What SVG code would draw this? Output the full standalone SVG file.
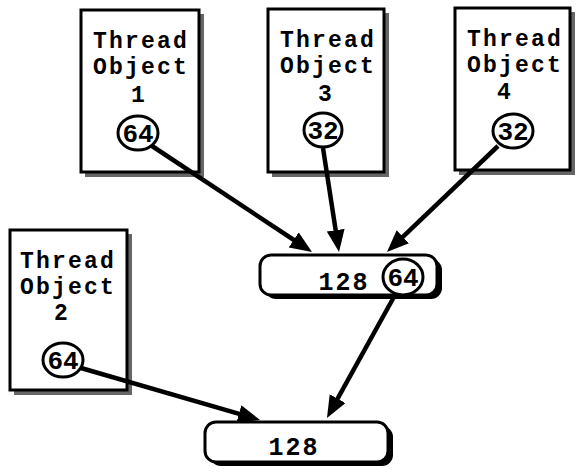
<svg xmlns="http://www.w3.org/2000/svg" width="580" height="476" viewBox="0 0 580 476">
<style>
.box{fill:#fff;stroke:#000;stroke-width:3}
.shadow{fill:#666}
.lbl{font-family:"Liberation Mono",monospace;font-weight:bold;font-size:23px;letter-spacing:2.2px;text-anchor:middle;fill:#000}
.num{font-family:"Liberation Mono",monospace;font-weight:bold;font-size:26px;text-anchor:middle;fill:#000}
.big{font-size:25px;letter-spacing:2px}
.ring{fill:#fff;stroke:#000;stroke-width:3}
.bar{fill:#fff;stroke:#000;stroke-width:3}
.barshadow{fill:#000}
.conn{stroke:#000;stroke-width:4.5;fill:none;marker-end:url(#ah)}
</style>
<defs>
<marker id="ah" markerUnits="userSpaceOnUse" markerWidth="24" markerHeight="20" refX="12" refY="9" orient="auto">
<path d="M0,0 L22,9 L0,18 z" fill="#000"/>
</marker>
</defs>
<rect width="580" height="476" fill="#fff"/>
<g id="thread1">
<rect class="shadow" x="85" y="14" width="119" height="163"/>
<rect class="box" x="81" y="10" width="118" height="162"/>
<text class="lbl" x="141" y="48">Thread</text>
<text class="lbl" x="141" y="74">Object</text>
<text class="lbl" x="139" y="102">1</text>
<ellipse class="ring" cx="138" cy="133" rx="20" ry="17"/>
<text class="num" x="138" y="142">64</text>
</g>
<g id="thread3">
<rect class="shadow" x="272" y="13" width="117" height="164"/>
<rect class="box" x="268" y="9" width="116" height="163"/>
<text class="lbl" x="328" y="47">Thread</text>
<text class="lbl" x="328" y="73">Object</text>
<text class="lbl" x="326" y="101">3</text>
<ellipse class="ring" cx="323" cy="130" rx="19" ry="17"/>
<text class="num" x="323" y="139">32</text>
</g>
<g id="thread4">
<rect class="shadow" x="459" y="12" width="116" height="163"/>
<rect class="box" x="455" y="8" width="115" height="162"/>
<text class="lbl" x="515" y="46">Thread</text>
<text class="lbl" x="515" y="72">Object</text>
<text class="lbl" x="505" y="99">4</text>
<ellipse class="ring" cx="513" cy="131" rx="20" ry="17"/>
<text class="num" x="513" y="140">32</text>
</g>
<g id="thread2">
<rect class="shadow" x="14" y="234" width="118" height="161"/>
<rect class="box" x="10" y="230" width="117" height="160"/>
<text class="lbl" x="68" y="268">Thread</text>
<text class="lbl" x="68" y="294">Object</text>
<text class="lbl" x="62" y="320">2</text>
<ellipse class="ring" cx="63" cy="360" rx="20" ry="17"/>
<text class="num" x="63" y="369">64</text>
</g>
<g id="counter-mid">
<rect class="barshadow" x="265" y="259" width="177" height="40" rx="11"/>
<rect class="bar" x="260" y="255" width="177" height="40" rx="11"/>
<text class="num big" x="344" y="290">128</text>
<ellipse class="ring" cx="403" cy="277" rx="20" ry="18"/>
<text class="num" x="403" y="286">64</text>
</g>
<g id="counter-bottom">
<rect class="barshadow" x="210" y="426" width="183" height="40" rx="11"/>
<rect class="bar" x="205" y="422" width="183" height="40" rx="11"/>
<text class="num big" x="294" y="455">128</text>
</g>
<g id="connectors">
<line class="conn" x1="152" y1="146" x2="303.7" y2="246.5"/>
<line class="conn" x1="323" y1="148" x2="337.5" y2="242.1"/>
<line class="conn" x1="498" y1="146" x2="394.2" y2="245.1"/>
<line class="conn" x1="81" y1="368" x2="250.4" y2="417.2"/>
<line class="conn" x1="395" y1="295" x2="331.8" y2="409.2"/>
</g>
</svg>
